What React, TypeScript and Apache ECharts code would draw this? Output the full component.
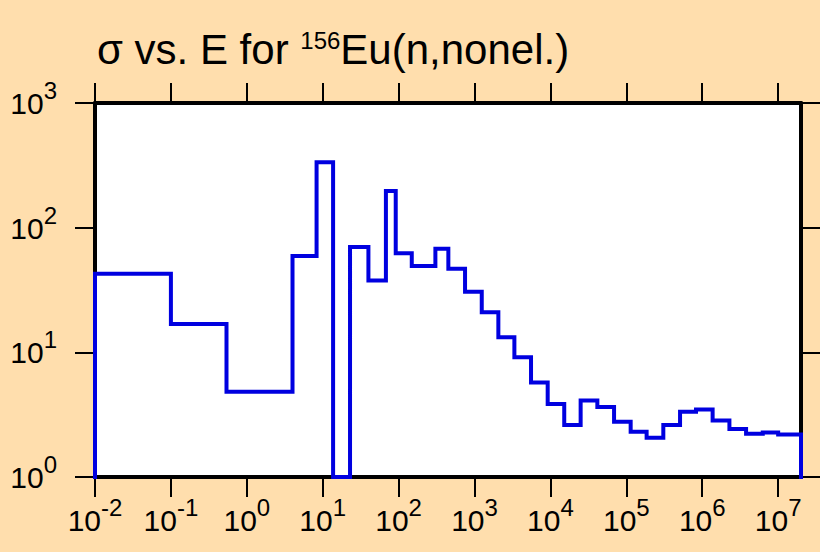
import React, { useEffect, useRef } from 'react';
import * as echarts from 'echarts';

// Energy bin edges (eV) and cross sections (b) for each bin
const binEdges = [
  0.01, 0.1, 0.54, 4, 8.3, 13.7, 22.9, 40, 68, 91.6,
  149, 305, 452, 750, 1245, 2060, 3350, 5550, 9200, 15200,
  25000, 41500, 68900, 114000, 185000, 307000, 510000, 828000, 1.37e6, 2.28e6,
  3.78e6, 6.27e6, 1.0e7, 2.0e7,
];
const binValues = [
  42.7, 16.9, 4.83, 59.2, 334, 1, 70, 37.7, 197, 62.2,
  49.2, 67.9, 46.9, 30.6, 21.0, 13.2, 9.12, 5.74, 3.85, 2.61,
  4.11, 3.64, 2.77, 2.31, 2.06, 2.61, 3.33, 3.48, 2.84, 2.43,
  2.22, 2.27, 2.19,
];
const xTickValues = [1e-2, 1e-1, 1, 10, 100, 1e3, 1e4, 1e5, 1e6, 1e7];
const yTickValues = [1, 10, 100, 1000];
const xRange = [0.01, 2e7];
const yRange = [1, 1000];

const FONT = "'Liberation Sans', Arial, Helvetica, sans-serif";

function expLabel(v: number) {
  const e = Math.round(Math.log10(v));
  return `{b|10}{e|${e}}`;
}

export default function App() {
  const ref = useRef<HTMLDivElement>(null);
  useEffect(() => {
    document.body.style.margin = '0';
    const chart = echarts.init(ref.current!, null, { renderer: 'svg' });

    const pts: [number, number][] = [];
    pts.push([binEdges[0], yRange[0]]);
    for (let i = 0; i < binValues.length; i++) {
      pts.push([binEdges[i], binValues[i]]);
      pts.push([binEdges[i + 1], binValues[i]]);
    }
    pts.push([binEdges[binEdges.length - 1], yRange[0]]);

    const tickStyle = { lineStyle: { color: '#000', width: 2 }, length: 20, inside: false };
    const lineStyle = { lineStyle: { color: '#000', width: 4 } };
    const richX = {
      b: { fontSize: 30, fontFamily: FONT, color: '#000', verticalAlign: 'bottom', padding: [10, 0, 0, 0] },
      e: { fontSize: 24, fontFamily: FONT, color: '#000', verticalAlign: 'top' },
    };
    const richY = {
      b: { fontSize: 30, fontFamily: FONT, color: '#000', verticalAlign: 'bottom', padding: [10, 0, 9, 0] },
      e: { fontSize: 24, fontFamily: FONT, color: '#000', verticalAlign: 'top' },
    };

    chart.setOption({
      animation: false,
      backgroundColor: '#FFDEAD',
      title: {
        text: '{a|σ vs. E for }{s|156}{a|Eu(n,nonel.)}',
        left: 97,
        top: 28,
        padding: 0,
        textStyle: {
          fontWeight: 'normal',
          rich: {
            a: { fontSize: 42, fontFamily: FONT, fontWeight: 'normal', color: '#000', verticalAlign: 'bottom' },
            s: { fontSize: 24, fontFamily: FONT, fontWeight: 'normal', color: '#000', verticalAlign: 'top' },
          },
        },
      },
      grid: {
        left: 95, right: 19, top: 103, bottom: 75,
        show: true, backgroundColor: '#ffffff', borderWidth: 0,
      },
      xAxis: [
        {
          type: 'log', logBase: 10, min: xRange[0], max: xRange[1], position: 'bottom',
          axisLine: lineStyle,
          axisTick: { ...tickStyle, customValues: xTickValues },
          axisLabel: { customValues: xTickValues, margin: 18, formatter: expLabel, rich: richX },
          splitLine: { show: false },
          minorTick: { show: false },
        },
        {
          type: 'log', logBase: 10, min: xRange[0], max: xRange[1], position: 'top',
          axisLine: lineStyle,
          axisTick: { ...tickStyle, customValues: xTickValues },
          axisLabel: { show: false },
          splitLine: { show: false },
        },
      ],
      yAxis: [
        {
          type: 'log', logBase: 10, min: yRange[0], max: yRange[1], position: 'left',
          axisLine: lineStyle,
          axisTick: { ...tickStyle, customValues: yTickValues },
          axisLabel: { customValues: yTickValues, margin: 38, formatter: expLabel, rich: richY },
          splitLine: { show: false },
        },
        {
          type: 'log', logBase: 10, min: yRange[0], max: yRange[1], position: 'right',
          axisLine: lineStyle,
          axisTick: { ...tickStyle, customValues: yTickValues },
          axisLabel: { show: false },
          splitLine: { show: false },
        },
      ],
      series: [
        {
          type: 'line',
          xAxisIndex: 0,
          yAxisIndex: 0,
          data: pts,
          showSymbol: false,
          symbol: 'none',
          clip: false,
          z: 10,
          lineStyle: { color: '#0000e0', width: 4, join: 'miter', cap: 'square' },
        },
      ],
    });
    return () => chart.dispose();
  }, []);
  return (
    <div
      ref={ref}
      style={{ position: 'fixed', left: 0, top: 0, width: 820, height: 552, background: '#FFDEAD' }}
    />
  );
}
